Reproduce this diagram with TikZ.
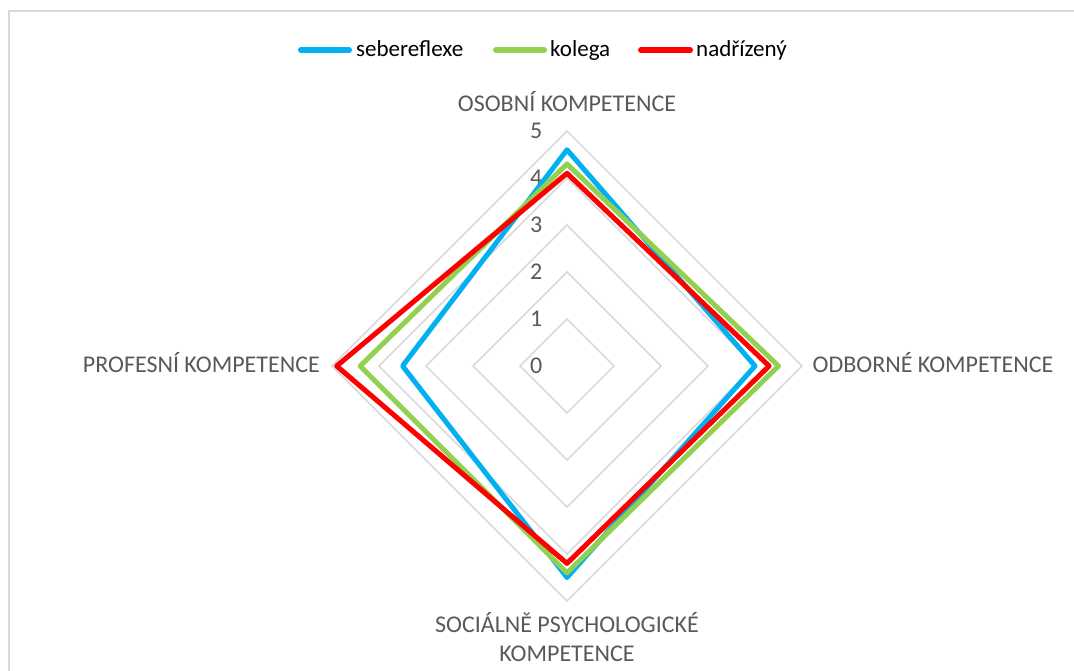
\documentclass[tikz,border=0pt]{standalone}
\usepackage{fontspec}
\setmainfont{Carlito}
\definecolor{gridgray}{HTML}{D9D9D9}
\definecolor{labgray}{HTML}{595959}
\definecolor{cblue}{HTML}{00B0F0}
\definecolor{cgreen}{HTML}{92D050}
\definecolor{cred}{HTML}{FF0000}
\begin{document}
\begin{tikzpicture}[x=1pt,y=-1pt,
  gridline/.style={draw=gridgray,line width=1.6pt},
  series/.style={line width=5pt,line join=round},
  legline/.style={line width=6pt,line cap=round},
  axlabel/.style={text=labgray,inner sep=0pt,font=\fontsize{24}{29}\selectfont},
  ticklabel/.style={text=labgray,inner sep=0pt,anchor=east,font=\fontsize{24}{29}\selectfont},
  legtext/.style={text=black,inner sep=0pt,anchor=base west,font=\fontsize{23}{28}\selectfont}]
\useasboundingbox (0,0) rectangle (1074,671);
\draw[gridgray,line width=2pt] (8.5,11.5) rectangle (1100,700);
% grid
\foreach \k in {1,...,5}{
  \draw[gridline] (567,{366-47*\k}) -- ({567+47*\k},366) -- (567,{366+47*\k}) -- ({567-47*\k},366) -- cycle;
}
\foreach \k in {0,...,5}{
  \node[ticklabel] (t\k) at (542.5,{366-47*\k}) {\k};
}
% series
\draw[series,cblue] (567,{366-47*4.6}) -- ({567+47*4.0},366) -- (567,{366+47*4.5}) -- ({567-47*3.5},366) -- cycle;
\draw[series,cgreen] (567,{366-47*4.3}) -- ({567+47*4.5},366) -- (567,{366+47*4.4}) -- ({567-47*4.4},366) -- cycle;
\draw[series,cred] (567,{366-47*4.1}) -- ({567+47*4.3},366) -- (567,{366+47*4.2}) -- ({567-47*4.9},366) -- cycle;
% axis labels
\node[axlabel,anchor=base] (osob) at (567,112) {OSOBNÍ KOMPETENCE};
\node[axlabel,anchor=base west] (odb) at (812.5,372.5) {ODBORNÉ KOMPETENCE};
\node[axlabel,anchor=base east] (prof) at (320,372.5) {PROFESNÍ KOMPETENCE};
\node[axlabel,anchor=base] (soc1) at (567,632.5) {SOCIÁLNĚ PSYCHOLOGICKÉ};
\node[axlabel,anchor=base] (soc2) at (567,661.5) {KOMPETENCE};
% legend
\coordinate (lb1) at (301,50); \coordinate (lb2) at (349,50);
\coordinate (lg1) at (496,50); \coordinate (lg2) at (544,50);
\coordinate (lr1) at (641,50); \coordinate (lr2) at (690,50);
\draw[legline,cblue] (lb1) -- (lb2);
\draw[legline,cgreen] (lg1) -- (lg2);
\draw[legline,cred] (lr1) -- (lr2);
\node[legtext] (lbt) at (356,57) {sebereflexe};
\node[legtext] (lgt) at (550,57) {kolega};
\node[legtext] (lrt) at (696,57) {nadřízený};
\end{tikzpicture}
\end{document}
